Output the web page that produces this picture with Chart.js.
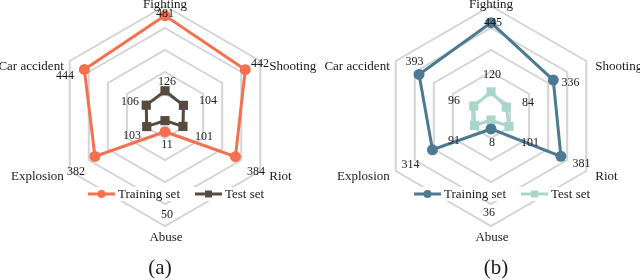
<!DOCTYPE html>
<html>
<head>
<meta charset="utf-8">
<script src="https://cdn.jsdelivr.net/npm/chart.js@4.4.1/dist/chart.umd.min.js"></script>
<style>
  html, body { margin: 0; padding: 0; background: #fff; width: 640px; height: 280px; overflow: hidden; position: relative; }
  canvas { position: absolute; top: 0; }
  #ca { left: 0; }
  #cb { left: 320px; }
  .cap { position: absolute; top: 255px; width: 60px; height: 24px; line-height: 24px; text-align: center;
         font-family: "Liberation Serif", "Times New Roman", serif; font-size: 21px; color: #1a1a1a; }
</style>
</head>
<body>
<canvas id="ca" width="320" height="260"></canvas>
<canvas id="cb" width="320" height="260"></canvas>
<div class="cap" style="left:130px">(a)</div>
<div class="cap" style="left:466px">(b)</div>
<script>
// ---- data ----
const CATEGORIES = ['Fighting', 'Shooting', 'Riot', 'Abuse', 'Explosion', 'Car accident'];
const SERIES_NAMES = ['Training set', 'Test set'];
const TRAIN_A = [481, 442, 384, 50, 382, 444];
const TEST_A  = [126, 104, 101, 11, 103, 106];
const TRAIN_B = [445, 336, 381, 36, 314, 393];
const TEST_B  = [120, 84, 101, 8, 91, 96];
// training set axis range and test set axis range
const TRAIN_MIN = -30, TRAIN_MAX = 530;
const TEST_MIN = -15, TEST_MAX = 600;
const GRID_RINGS = 5;

// ---- text placement plugin (labels anchored on the radial scale) ----
const FONT = '"Liberation Serif", "Times New Roman", serif';
const CAT_PLACE = [[0, -1, 'center'], [9, 6, 'left'], [9, 6, 'left'], [1, 11.5, 'center'], [-6, 6, 'right'], [-6, 6, 'right']];

const radarText = {
  id: 'radarText',
  afterDatasetsDraw(chart, args, opts) {
    const scale = chart.scales.r;
    const ctx = chart.ctx;
    const R = scale.drawingArea;
    const cx = scale.xCenter, cy = scale.yCenter;
    ctx.save();
    ctx.fillStyle = '#1a1a1a';
    ctx.textBaseline = 'middle';
    // category labels
    ctx.font = '13px ' + FONT;
    chart.data.labels.forEach((c, i) => {
      const p = scale.getPointPosition(i, R);
      const pl = CAT_PLACE[i];
      ctx.textAlign = pl[2];
      ctx.fillText(c, p.x + pl[0], p.y + pl[1]);
    });
    // value labels
    ctx.font = '12px ' + FONT;
    ctx.textAlign = 'center';
    chart.data.datasets.forEach((ds, di) => {
      const place = opts.values[di];
      ds.data.forEach((v, i) => {
        const p = scale.getPointPosition(i, place.radius);
        ctx.fillText(String(v), p.x + place.nudge[i][0], p.y + place.nudge[i][1]);
      });
    });
    // legend
    const ly = cy + 78;
    ctx.fillStyle = '#fff';
    ctx.fillRect(cx - 80, ly - 7, 182, 14);
    const items = [
      { x0: cx - 77, x1: cx - 50, tx: cx - 47 },
      { x0: cx + 30, x1: cx + 57, tx: cx + 60 }
    ];
    chart.data.datasets.forEach((ds, di) => {
      const it = items[di];
      ctx.strokeStyle = ds.borderColor;
      ctx.lineWidth = 3;
      ctx.beginPath();
      ctx.moveTo(it.x0, ly);
      ctx.lineTo(it.x1, ly);
      ctx.stroke();
      ctx.fillStyle = ds.borderColor;
      const mx = (it.x0 + it.x1) / 2;
      if (ds.pointStyle === 'rect') {
        ctx.fillRect(mx - 3.5, ly - 3.5, 7, 7);
      } else {
        ctx.beginPath();
        ctx.arc(mx, ly, 4, 0, Math.PI * 2);
        ctx.fill();
      }
      ctx.fillStyle = '#1a1a1a';
      ctx.font = '13px ' + FONT;
      ctx.textAlign = 'left';
      ctx.fillText(ds.label, it.tx, ly + 0.5);
    });
    ctx.restore();
  }
};

function makeChart(id, train, test, colTrain, colTest, padLeft, padRight, values) {
  return new Chart(document.getElementById(id), {
    type: 'radar',
    data: {
      labels: CATEGORIES,
      datasets: [
        { label: SERIES_NAMES[0], data: train, rAxisID: 'r', borderColor: colTrain, backgroundColor: colTrain,
          pointBackgroundColor: colTrain, pointBorderColor: colTrain, borderWidth: 3,
          pointStyle: 'circle', pointRadius: 5.5, pointBorderWidth: 0, fill: false, tension: 0 },
        { label: SERIES_NAMES[1], data: test, rAxisID: 'r2', borderColor: colTest, backgroundColor: colTest,
          pointBackgroundColor: colTest, pointBorderColor: colTest, borderWidth: 3,
          pointStyle: 'rect', pointRadius: 6.5, pointBorderWidth: 0, fill: false, tension: 0 }
      ]
    },
    options: {
      responsive: false,
      animation: false,
      devicePixelRatio: 1,
      layout: { padding: { left: padLeft, right: padRight, top: 6, bottom: 34 } },
      plugins: {
        legend: { display: false },
        tooltip: { enabled: false },
        radarText: { values: values }
      },
      scales: {
        r: {
          type: 'radialLinear',
          min: TRAIN_MIN,
          max: TRAIN_MAX,
          ticks: { display: false, count: GRID_RINGS + 1 },
          pointLabels: { display: false },
          angleLines: { display: false },
          grid: {
            circular: false,
            lineWidth: 2,
            color: (c) => (c.index === 0 ? 'rgba(0,0,0,0)' : '#d4d4d4')
          }
        },
        r2: {
          type: 'radialLinear',
          axis: 'r',
          min: TEST_MIN,
          max: TEST_MAX,
          ticks: { display: false },
          pointLabels: { display: false },
          angleLines: { display: false },
          grid: { display: false }
        }
      }
    },
    plugins: [radarText]
  });
}

makeChart('ca', TRAIN_A, TEST_A, '#f4704f', '#574b40', 55, 45, [
  { radius: 105, nudge: [[0, 3], [4, 0], [0, 3], [2, -6], [2, 3], [-9, 12]] },
  { radius: 38,  nudge: [[2, 4], [10, 4], [6, 2], [2, -9], [0, 1], [-2, 5]] }
]);
makeChart('cb', TRAIN_B, TEST_B, '#4b7a92', '#a9d6cc', 61, 39, [
  { radius: 94, nudge: [[2, 1], [-2, 14], [9, 1], [-2, 3], [1, 2], [5, -7]] },
  { radius: 38, nudge: [[1, -3], [4, 6], [6, 8], [1, -11], [-4, 6], [-4, 4]] }
]);
</script>
</body>
</html>
